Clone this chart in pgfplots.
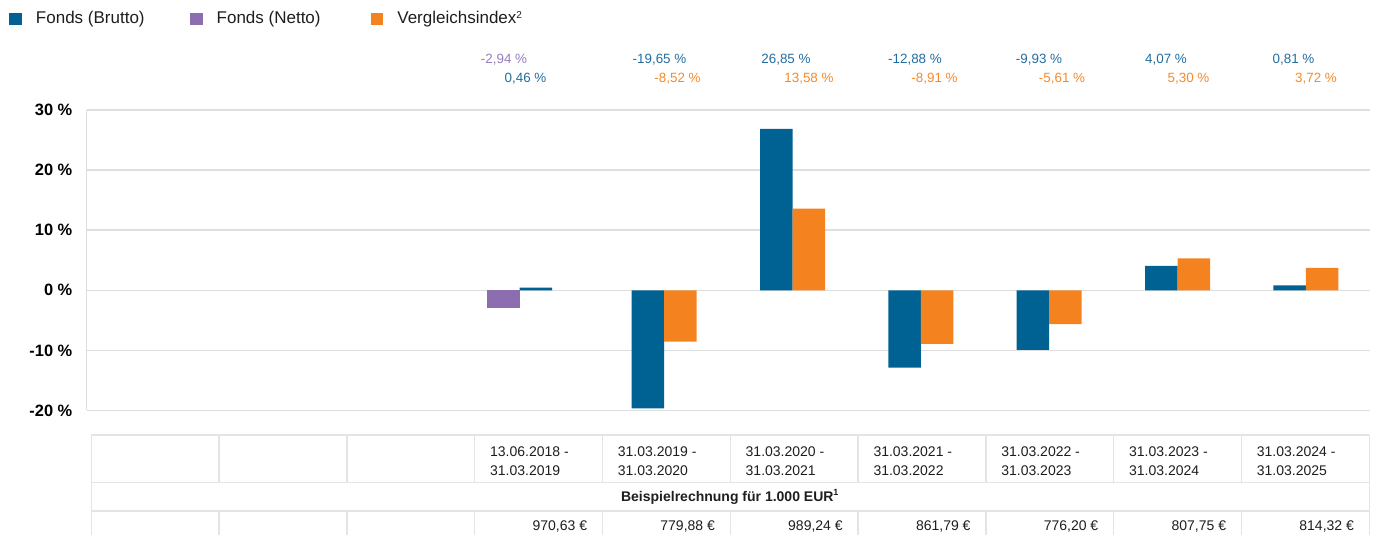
\documentclass[border=0pt]{standalone}
\usepackage{pgfplots}
\pgfplotsset{compat=1.18}
\usepackage{fontspec}
\setmainfont{Liberation Sans}
\definecolor{cblue}{RGB}{0,98,146}
\definecolor{cpurple}{RGB}{140,110,176}
\definecolor{corange}{RGB}{244,130,30}
\definecolor{lblue}{RGB}{35,108,160}
\definecolor{lpurple}{RGB}{150,125,190}
\definecolor{lorange}{RGB}{245,138,45}
\definecolor{gridgray}{RGB}{222,222,222}
\definecolor{tabgray}{RGB}{228,228,228}
\definecolor{txt}{RGB}{30,30,30}
\begin{document}
\begin{tikzpicture}
\path[use as bounding box] (0,0) rectangle (686.5pt,267.5pt);
\begin{axis}[
  at={(43.35pt,62.25pt)}, anchor=south west,
  scale only axis, width=641.65pt, height=150.25pt,
  xmin=0, xmax=10, ymin=-20, ymax=30,
  enlargelimits=false,
  ytick={-20,-10,0,10,20,30},
  yticklabels={-20 \%,-10 \%,0 \%,10 \%,20 \%,30 \%},
  yticklabel style={font=\fontsize{8.2}{10}\selectfont\bfseries, text=black, inner sep=0pt, xshift=-7pt},
  major tick length=0pt,
  xtick=\empty,
  axis x line=none, axis y line=left,
  y axis line style={draw=gridgray, line width=0.75pt, -},
  ymajorgrids, grid style={draw=gridgray, line width=0.7pt},
  clip=false,
  ybar, bar shift=0pt, bar width=0.2533,
  legend image code/.code={\fill[#1] (0pt,-3.1pt) rectangle (6.25pt,3.1pt); \path (13.25pt,0pt);},
  legend columns=3,
  legend cell align=left,
  legend style={at={(-0.06016,1.3032)}, anchor=west, draw=none, fill=none,
    inner sep=0pt, outer sep=0pt, column sep=0pt, row sep=0pt,
    font=\fontsize{8.5}{10}\selectfont, text=txt,
    nodes={inner sep=0pt}},
]
\addplot[fill=cblue, draw=none] coordinates {(3.5,0.46) (4.3734,-19.65) (5.3734,26.85) (6.3734,-12.88) (7.3734,-9.93) (8.3734,4.07) (9.3734,0.81)};
\addlegendentry{\makebox[77.1pt][l]{Fonds (Brutto)}}
\addplot[fill=cpurple, draw=none] coordinates {(3.2467,-2.94)};
\addlegendentry{\makebox[77.1pt][l]{Fonds (Netto)}}
\addplot[fill=corange, draw=none] coordinates {(4.6266,-8.52) (5.6266,13.58) (6.6266,-8.91) (7.6266,-5.61) (8.6266,5.30) (9.6266,3.72)};
\addlegendentry{Vergleichsindex\textsuperscript{\fontsize{5}{6}\selectfont 2}}
\end{axis}
\begin{scope}[shift={(0pt,267.5pt)}, x=0.5pt, y=-0.5pt]
  \tikzset{dl/.style={font=\fontsize{6.7}{8}\selectfont, inner sep=0pt}}
  % data labels
  \node[dl, text=lpurple] at (504,60) {-2,94 \%};
  \node[dl, text=lblue] at (525.5,79) {0,46 \%};
  \node[dl, text=lblue] at (659.5,60) {-19,65 \%};
  \node[dl, text=lorange] at (677.5,79) {-8,52 \%};
  \node[dl, text=lblue] at (786,60) {26,85 \%};
  \node[dl, text=lorange] at (809,79) {13,58 \%};
  \node[dl, text=lblue] at (915,60) {-12,88 \%};
  \node[dl, text=lorange] at (934.5,79) {-8,91 \%};
  \node[dl, text=lblue] at (1039,60) {-9,93 \%};
  \node[dl, text=lorange] at (1062,79) {-5,61 \%};
  \node[dl, text=lblue] at (1166,60) {4,07 \%};
  \node[dl, text=lorange] at (1188.5,79) {5,30 \%};
  \node[dl, text=lblue] at (1293.5,60) {0,81 \%};
  \node[dl, text=lorange] at (1316,79) {3,72 \%};
  % table
  \tikzset{tl/.style={draw=tabgray, line width=0.75pt}, tt/.style={font=\fontsize{7}{8.4}\selectfont, text=txt, inner sep=0pt}}
  \draw[tl] (91.3,435) -- (1369.3,435);
  \draw[tl] (91.3,482.3) -- (1369.3,482.3);
  \draw[tl] (91.3,511) -- (1369.3,511);
  \draw[tl] (91.3,435) -- (91.3,545);
  \draw[tl] (1369.3,435) -- (1369.3,545);
  \foreach \k in {1,...,9} {
    \draw[tl] ({91.3+127.8*\k},435) -- ({91.3+127.8*\k},482.3);
    \draw[tl] ({91.3+127.8*\k},511) -- ({91.3+127.8*\k},545);
  }
  \foreach \k/\a/\b/\v in {3/13.06.2018/31.03.2019/{970,63},4/31.03.2019/31.03.2020/{779,88},5/31.03.2020/31.03.2021/{989,24},6/31.03.2021/31.03.2022/{861,79},7/31.03.2022/31.03.2023/{776,20},8/31.03.2023/31.03.2024/{807,75},9/31.03.2024/31.03.2025/{814,32}} {
    \node[tt, anchor=west] at ({91.3+127.8*\k+15},451.7) {\a\ -};
    \node[tt, anchor=west] at ({91.3+127.8*\k+15},470.7) {\b};
    \node[tt, anchor=east] at ({91.3+127.8*(\k+1)-15},526.7) {\v\ €};
  }
  \node[tt, font=\fontsize{7}{8.4}\selectfont\bfseries] at (730.3,496.7) {Beispielrechnung für 1.000 EUR\textsuperscript{\fontsize{4.5}{5}\selectfont 1}};
\end{scope}
\end{tikzpicture}
\end{document}
